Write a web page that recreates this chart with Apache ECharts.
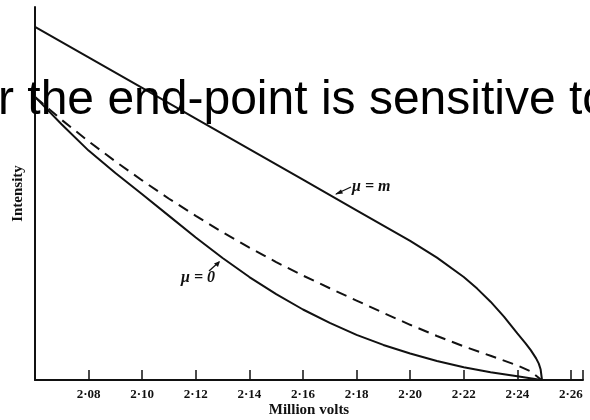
<!DOCTYPE html>
<html><head><meta charset="utf-8">
<script src="https://cdn.jsdelivr.net/npm/echarts@6/dist/echarts.min.js"></script>
<style>html,body{margin:0;padding:0;background:#fff}#c{width:590px;height:420px}</style>
</head><body><div id="c"></div>
<script>
// Million volts (x) and intensity (arbitrary units)
const xMu_m = [2.06, 2.08, 2.10, 2.12, 2.14, 2.16, 2.18, 2.20, 2.21, 2.22, 2.225, 2.23, 2.235, 2.24, 2.243, 2.245, 2.247, 2.248, 2.2487, 2.2492];
const yMu_m = [94.7, 86.5, 78.3, 70.1, 61.9, 53.7, 45.5, 37.3, 32.8, 27.6, 24.5, 21.0, 17.0, 12.5, 9.9, 8.0, 5.8, 4.4, 2.8, 0];
const xDashed = [2.06, 2.07, 2.08, 2.09, 2.10, 2.11, 2.12, 2.13, 2.14, 2.15, 2.16, 2.17, 2.18, 2.19, 2.20, 2.21, 2.22, 2.23, 2.24, 2.245, 2.249];
const yDashed = [75.9, 69.7, 64.0, 58.6, 53.5, 48.6, 44.0, 39.6, 35.5, 31.6, 28.0, 24.6, 21.3, 18.0, 14.8, 11.8, 9.0, 6.5, 3.9, 2.3, 0];
const xMu_0 = [2.06, 2.07, 2.08, 2.09, 2.10, 2.11, 2.12, 2.13, 2.14, 2.15, 2.16, 2.17, 2.18, 2.19, 2.20, 2.21, 2.22, 2.23, 2.24, 2.249];
const yMu_0 = [75.9, 68.5, 61.5, 55.5, 49.8, 44.0, 38.2, 32.7, 27.6, 23.0, 18.9, 15.3, 12.1, 9.4, 7.1, 5.1, 3.4, 2.1, 1.0, 0];
const xTicks = [2.08, 2.10, 2.12, 2.14, 2.16, 2.18, 2.20, 2.22, 2.24, 2.26];
const overlayText = 'r the end-point is sensitive to';

const zip = (xs, ys) => xs.map((x, i) => [x, ys[i]]);
const chart = echarts.init(document.getElementById('c'), null, {renderer: 'canvas'});
const serif = '"Liberation Serif", "DejaVu Serif", serif';
const lineCommon = {type: 'line', symbol: 'none', smooth: false, silent: true};
chart.setOption({
  animation: false,
  backgroundColor: '#fff',
  grid: {left: 35, top: 7, right: 7, bottom: 40, containLabel: false, outerBoundsMode: 'none'},
  xAxis: {
    type: 'value', min: 2.06, max: 2.2645, interval: 0.02,
    axisLine: {show: true, lineStyle: {color: '#111', width: 2}},
    axisTick: {show: true, inside: true, length: 10, lineStyle: {color: '#111', width: 1.5}},
    axisLabel: {show: true, margin: 8, color: '#111',
      fontFamily: serif, fontWeight: 'bold', fontSize: 13,
      formatter: v => xTicks.some(t => Math.abs(t - v) < 1e-6) ? v.toFixed(2).replace('.', '·') : ''},
    splitLine: {show: false},
    name: 'Million volts', nameLocation: 'middle', nameGap: 23, nameMoveOverlap: false,
    nameTextStyle: {color: '#111', fontFamily: serif, fontWeight: 'bold', fontSize: 15}
  },
  yAxis: {
    type: 'value', min: 0, max: 100,
    axisLine: {show: true, lineStyle: {color: '#111', width: 2}},
    axisTick: {show: false}, axisLabel: {show: false}, splitLine: {show: false},
    name: 'Intensity', nameLocation: 'middle', nameRotate: 90, nameGap: 9,
    nameTextStyle: {color: '#111', fontFamily: serif, fontWeight: 'bold', fontSize: 15}
  },
  series: [
    Object.assign({name: 'μ=m', data: zip(xMu_m, yMu_m), lineStyle: {color: '#111', width: 2}}, lineCommon),
    Object.assign({name: 'dashed', data: zip(xDashed, yDashed), lineStyle: {color: '#111', width: 2, type: [11, 7]}}, lineCommon),
    Object.assign({name: 'μ=0', data: zip(xMu_0, yMu_0), lineStyle: {color: '#111', width: 2}}, lineCommon)
  ],
  graphic: [
    {type: 'text', z: 100, style: {text: 'μ = m', x: 352, y: 187, verticalAlign: 'middle',
      font: 'italic bold 16px ' + serif, fill: '#111'}},
    {type: 'line', z: 100, shape: {x1: 351, y1: 187, x2: 336, y2: 194}, style: {stroke: '#111', lineWidth: 1.3}},
    {type: 'polygon', z: 100, shape: {points: [[335, 194.5], [341, 189.5], [343, 193.5]]}, style: {fill: '#111'}},
    {type: 'text', z: 100, style: {text: 'μ = 0', x: 181, y: 278, verticalAlign: 'middle',
      font: 'italic bold 16px ' + serif, fill: '#111'}},
    {type: 'line', z: 100, shape: {x1: 209, y1: 271, x2: 219, y2: 262}, style: {stroke: '#111', lineWidth: 1.3}},
    {type: 'polygon', z: 100, shape: {points: [[220, 261], [214, 263.5], [218, 267]]}, style: {fill: '#111'}},
    {type: 'text', z: 200, style: {text: overlayText, x: -2, y: 101, verticalAlign: 'middle',
      font: '48px "Liberation Sans", Arial, sans-serif', fill: '#000'}}
  ]
});
</script>
</body></html>
